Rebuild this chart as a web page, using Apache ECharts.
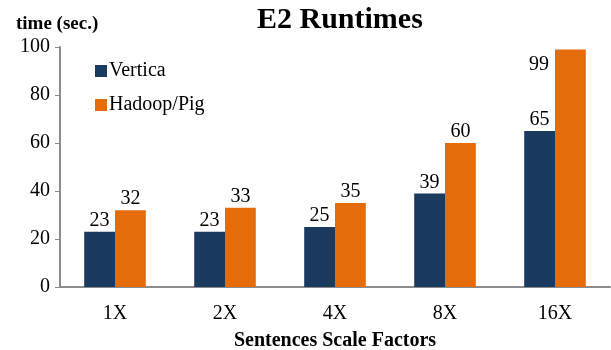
<!DOCTYPE html>
<html>
<head>
<meta charset="utf-8">
<script src="https://cdn.jsdelivr.net/npm/echarts@6/dist/echarts.min.js"></script>
<style>
  html, body { margin: 0; padding: 0; background: #fff; }
  #chart { width: 611px; height: 350px; }
</style>
</head>
<body>
<div id="chart"></div>
<script>
  // 横轴分类
  const categories = ['1X', '2X', '4X', '8X', '16X']
  // 两组运行时间（秒）
  const vertica = [23, 23, 25, 39, 65]
  const hadoopPig = [32, 33, 35, 60, 99]
  const yTicks = [0, 20, 40, 60, 80, 100]

  const serif = '"Liberation Serif", "Times New Roman", serif'
  const axisGray = '#8c8c8c'

  const labelStyle = {
    show: true,
    position: 'top',
    distance: 1,
    color: '#000',
    fontFamily: serif,
    fontSize: 20
  }

  // 最后一根柱子的标签放在左侧
  const hadoopData = hadoopPig.map((v, i) =>
    i === hadoopPig.length - 1
      ? { value: v, label: { position: [-6, 5], align: 'right', verticalAlign: 'top' } }
      : v
  )

  const chart = echarts.init(document.getElementById('chart'))
  chart.setOption({
    animation: false,
    title: [
      {
        text: 'E2 Runtimes',
        left: 252,
        top: 0,
        textStyle: { fontFamily: serif, fontSize: 30, fontWeight: 'bold', color: '#000' }
      },
      {
        text: 'time (sec.)',
        left: 11,
        top: 10,
        textStyle: { fontFamily: serif, fontSize: 19, fontWeight: 'bold', color: '#000' }
      }
    ],
    legend: {
      orient: 'vertical',
      left: 90,
      top: 56,
      itemWidth: 12,
      itemHeight: 12,
      itemGap: 14,
      icon: 'rect',
      textStyle: { fontFamily: serif, fontSize: 20, color: '#000', padding: [0, 0, 0, -3] },
      data: ['Vertica', 'Hadoop/Pig']
    },
    grid: { left: 60, right: 1, top: 47, bottom: 63, outerBoundsMode: 'none', containLabel: false },
    xAxis: {
      type: 'category',
      data: categories,
      name: 'Sentences Scale Factors',
      nameLocation: 'middle',
      nameGap: 44,
      nameTextStyle: { fontFamily: serif, fontSize: 20, fontWeight: 'bold', color: '#000' },
      axisLine: { lineStyle: { color: axisGray, width: 2 } },
      axisTick: { show: false },
      axisLabel: { fontFamily: serif, fontSize: 20, color: '#000', margin: 17 }
    },
    yAxis: {
      type: 'value',
      min: yTicks[0],
      max: yTicks[yTicks.length - 1],
      interval: 20,
      splitLine: { show: false },
      axisLine: { show: true, lineStyle: { color: axisGray, width: 2 } },
      axisTick: { show: true, length: 5, lineStyle: { color: axisGray, width: 1 } },
      axisLabel: { fontFamily: serif, fontSize: 20, color: '#000', margin: 10 }
    },
    series: [
      {
        name: 'Vertica',
        type: 'bar',
        data: vertica,
        itemStyle: { color: '#1b3a60' },
        barGap: '0%',
        barCategoryGap: '44%',
        label: labelStyle
      },
      {
        name: 'Hadoop/Pig',
        type: 'bar',
        data: hadoopData,
        itemStyle: { color: '#e46c0a' },
        label: labelStyle
      }
    ]
  })
</script>
</body>
</html>
